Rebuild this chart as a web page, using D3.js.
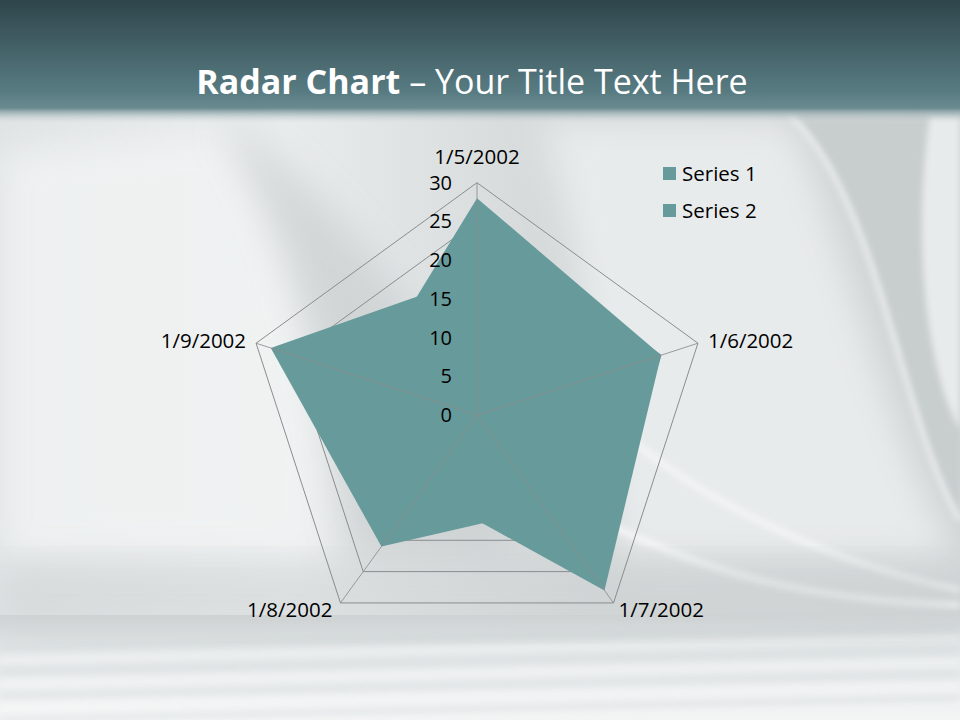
<!DOCTYPE html>
<html><head><meta charset="utf-8">
<script src="https://cdn.jsdelivr.net/npm/d3@7/dist/d3.min.js"></script>
<style>html,body{margin:0;padding:0;background:#cdd2d3;}svg{display:block;}</style>
</head><body>
<script>
const categories = ["1/5/2002","1/6/2002","1/7/2002","1/8/2002","1/9/2002"];
const series1 = [28, 25, 28, 12, 15];
const series2 = [18, 16, 15, 21, 28];
const seriesNames = ["Series 1","Series 2"];
const tickValues = [0,5,10,15,20,25,30];
const titleBold = "Radar Chart";
const titleRest = " \u2013 Your Title Text Here";

const W=960,H=720, cx=477, cy=415, R=232.3;
const fillColor="#679a9a";
const svg=d3.select("body").append("svg").attr("width",W).attr("height",H);
const defs=svg.append("defs");

// background
const bg=defs.append("linearGradient").attr("id","bg").attr("x1",0).attr("y1",0).attr("x2",1).attr("y2",0);
bg.append("stop").attr("offset","0").attr("stop-color","#dfe3e4");
bg.append("stop").attr("offset","0.3").attr("stop-color","#e9ecec");
bg.append("stop").attr("offset","0.6").attr("stop-color","#d3d7d8");
bg.append("stop").attr("offset","1").attr("stop-color","#cfd3d4");
svg.append("rect").attr("width",W).attr("height",H).attr("fill","url(#bg)");
const blur=defs.append("filter").attr("id","blur").attr("x","-20%").attr("y","-20%").attr("width","140%").attr("height","140%");
blur.append("feGaussianBlur").attr("stdDeviation",18);
const blur2=defs.append("filter").attr("id","blur2").attr("x","-20%").attr("y","-20%").attr("width","140%").attr("height","140%");
blur2.append("feGaussianBlur").attr("stdDeviation",3);
const deco=svg.append("g");
deco.append("path").attr("d","M0,150 L230,130 C300,250 330,380 320,560 L0,560 Z").attr("fill","#f2f4f4").attr("filter","url(#blur)").attr("opacity",0.8);
deco.append("path").attr("d","M220,120 C320,180 420,300 470,420 L520,560 L350,560 C330,400 300,250 220,120 Z").attr("fill","#c9cecf").attr("filter","url(#blur)").attr("opacity",0.7);
deco.append("path").attr("d","M540,120 L790,120 C850,250 880,420 960,560 L620,560 C600,400 580,250 540,120 Z").attr("fill","#eef1f1").attr("filter","url(#blur)").attr("opacity",0.8);
deco.append("path").attr("d","M790,115 C880,200 900,420 960,520 L960,115 Z").attr("fill","#c8cdce").attr("filter","url(#blur2)");
deco.append("path").attr("d","M790,115 C880,200 900,420 960,520").attr("fill","none").attr("stroke","#f4f6f6").attr("stroke-width",4).attr("filter","url(#blur2)");
deco.append("path").attr("d","M930,115 C910,250 930,380 960,430 L960,115 Z").attr("fill","#e8ebeb").attr("filter","url(#blur2)");
deco.append("path").attr("d","M620,430 C700,500 820,560 960,590").attr("fill","none").attr("stroke","#f6f8f8").attr("stroke-width",5).attr("filter","url(#blur2)");
deco.append("path").attr("d","M600,520 C700,570 800,600 960,605").attr("fill","none").attr("stroke","#f6f8f8").attr("stroke-width",6).attr("filter","url(#blur2)");
// bottom pages
const bot=defs.append("linearGradient").attr("id","bot").attr("x1",0).attr("y1",0).attr("x2",0).attr("y2",1);
bot.append("stop").attr("offset","0").attr("stop-color","#cfd3d4");
bot.append("stop").attr("offset","0.35").attr("stop-color","#e3e7e8");
bot.append("stop").attr("offset","1").attr("stop-color","#f3f5f5");
svg.append("rect").attr("x",0).attr("y",615).attr("width",W).attr("height",105).attr("fill","url(#bot)");
const stripeYs=[640,652,664,676,688,700,712];
stripeYs.forEach((y,i)=>{
  svg.append("path").attr("d",`M0,${y+8} C300,${y+4} 600,${y-6} 960,${y-14}`)
    .attr("fill","none").attr("stroke",i%2?"#ffffff":"#bfc7c9").attr("stroke-width",i%2?3:2).attr("opacity",0.7).attr("filter","url(#blur2)");
});
svg.append("rect").attr("x",0).attr("y",560).attr("width",W).attr("height",70).attr("fill","#cdd2d3").attr("opacity",0.5).attr("filter","url(#blur)");

// title band
const tb=defs.append("linearGradient").attr("id","tb").attr("x1",0).attr("y1",0).attr("x2",0).attr("y2",1);
tb.append("stop").attr("offset","0").attr("stop-color","#2e454b");
tb.append("stop").attr("offset","0.85").attr("stop-color","#587b82");
tb.append("stop").attr("offset","1").attr("stop-color","#6a8a90");
const fade=defs.append("linearGradient").attr("id","fade").attr("x1",0).attr("y1",0).attr("x2",0).attr("y2",1);
fade.append("stop").attr("offset","0").attr("stop-color","#6a8a90").attr("stop-opacity",1);
fade.append("stop").attr("offset","1").attr("stop-color","#dfe3e4").attr("stop-opacity",0);
svg.append("rect").attr("width",W).attr("height",108).attr("fill","url(#tb)");
svg.append("rect").attr("y",108).attr("width",W).attr("height",16).attr("fill","url(#fade)");

const title=svg.append("text").attr("x",472).attr("y",94).attr("text-anchor","middle")
  .attr("font-family","'Open Sans', sans-serif").attr("font-size",34).attr("fill","#ffffff");
title.append("tspan").attr("font-weight","bold").text(titleBold);
title.append("tspan").text(titleRest);

// radar
const r=d3.scaleLinear().domain([0,30]).range([0,R]);
const n=categories.length;
const ang=i=>-Math.PI/2 + i*2*Math.PI/n;
const pt=(i,v)=>[cx+r(v)*Math.cos(ang(i)), cy+r(v)*Math.sin(ang(i))];
const line=d3.line();
const g=svg.append("g");
tickValues.filter(t=>t>0).forEach(t=>{
  g.append("path").attr("d",line(categories.map((c,i)=>pt(i,t)))+"Z")
   .attr("fill","none").attr("stroke","#8a8d8e").attr("stroke-width",1);
});
[series1,series2].forEach(s=>{
  g.append("path").attr("d",line(s.map((v,i)=>pt(i,v)))+"Z").attr("fill",fillColor).attr("stroke","none");
});
categories.forEach((c,i)=>{
  const p=pt(i,30);
  g.append("line").attr("x1",cx).attr("y1",cy).attr("x2",p[0]).attr("y2",p[1])
   .attr("stroke","#8a8d8e").attr("stroke-width",1).attr("opacity",0.85);
});
// radial tick labels
const font="'Open Sans', sans-serif";
tickValues.forEach(t=>{
  g.append("text").attr("x",cx-25).attr("y",cy-r(t)).attr("dy","0.35em").attr("text-anchor","end")
   .attr("font-family",font).attr("font-size",20).attr("fill","#000").text(t);
});
// category labels
const labelPos=[
  {dx:0,dy:-26,anchor:"middle"},
  {dx:10,dy:-2,anchor:"start"},
  {dx:5,dy:7,anchor:"start"},
  {dx:-8,dy:7,anchor:"end"},
  {dx:-10,dy:-2,anchor:"end"}];
categories.forEach((c,i)=>{
  const p=pt(i,30);
  g.append("text").attr("x",p[0]+labelPos[i].dx).attr("y",p[1]+labelPos[i].dy).attr("dy","0.35em")
   .attr("text-anchor",labelPos[i].anchor).attr("font-family",font).attr("font-size",20.5).attr("fill","#000").text(c);
});
// legend
const lg=svg.append("g");
seriesNames.forEach((s,i)=>{
  lg.append("rect").attr("x",663).attr("y",167+i*37).attr("width",13).attr("height",13).attr("fill",fillColor);
  lg.append("text").attr("x",682).attr("y",174+i*37).attr("dy","0.35em").attr("font-family",font)
    .attr("font-size",20.5).attr("fill","#000").text(s);
});
</script>
</body></html>
